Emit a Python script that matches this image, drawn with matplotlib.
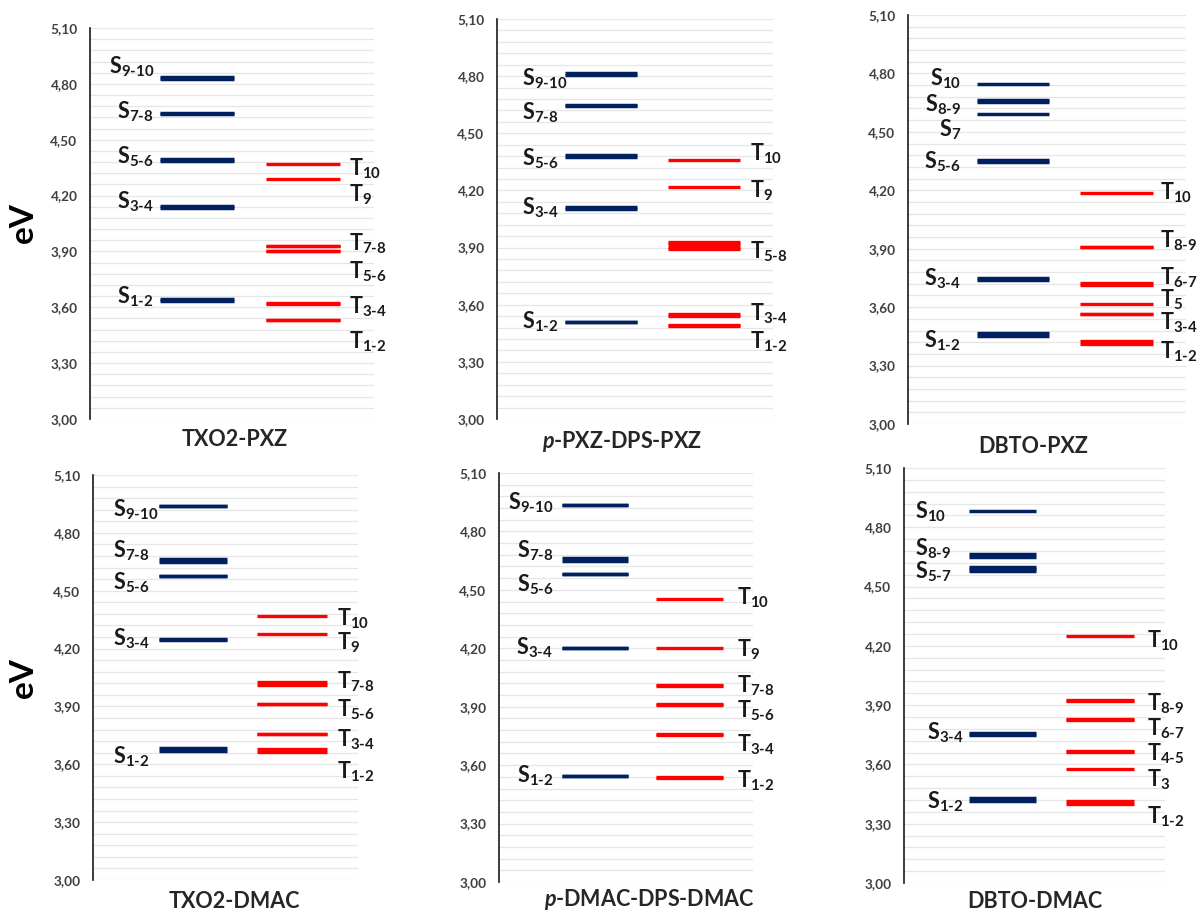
import matplotlib
matplotlib.use('Agg')
import matplotlib.pyplot as plt
import numpy as np
from matplotlib.ticker import FuncFormatter

plt.rcParams['font.family'] = ['Lato', 'DejaVu Sans']
plt.rcParams['font.weight'] = 'bold'
plt.rcParams['mathtext.fontset'] = 'custom'
plt.rcParams['mathtext.rm'] = 'Lato:bold'
plt.rcParams['mathtext.it'] = 'Lato:italic:bold'
plt.rcParams['mathtext.bf'] = 'Lato:bold'

# ---------------- DATA ----------------
molecules = [r'TXO2-PXZ', r'$\mathit{p}$-PXZ-DPS-PXZ', r'DBTO-PXZ',
             r'TXO2-DMAC', r'$\mathit{p}$-DMAC-DPS-DMAC', r'DBTO-DMAC']

# singlet state energies (eV), one entry per state
singlets = [
    [3.636, 3.644, 4.135, 4.144, 4.385, 4.394, 4.640, 4.641, 4.826, 4.835],
    [3.510, 3.511, 4.105, 4.113, 4.376, 4.385, 4.643, 4.651, 4.808, 4.816],
    [3.450, 3.465, 3.737, 3.749, 4.345, 4.353, 4.590, 4.651, 4.663, 4.744],
    [3.670, 3.685, 4.243, 4.251, 4.574, 4.577, 4.651, 4.666, 4.941, 4.941],
    [3.542, 3.546, 4.203, 4.203, 4.579, 4.583, 4.650, 4.665, 4.937, 4.937],
    [3.413, 3.428, 3.749, 3.757, 4.581, 4.590, 4.600, 4.649, 4.663, 4.884],
]
# triplet state energies (eV)
triplets = [
    [3.530, 3.531, 3.620, 3.621, 3.900, 3.901, 3.930, 3.931, 4.290, 4.370],
    [3.490, 3.491, 3.543, 3.551, 3.893, 3.905, 3.918, 3.930, 4.220, 4.360],
    [3.413, 3.428, 3.563, 3.567, 3.618, 3.715, 3.723, 3.910, 3.911, 4.186],
    [3.663, 3.678, 3.755, 3.758, 3.911, 3.914, 4.013, 4.025, 4.278, 4.369],
    [3.535, 3.539, 3.755, 3.759, 3.909, 3.913, 4.006, 4.010, 4.200, 4.455],
    [3.398, 3.413, 3.579, 3.662, 3.670, 3.824, 3.828, 3.920, 3.924, 4.249],
]

singlet_labels = [
    ['9-10', '7-8', '5-6', '3-4', '1-2'],
    ['9-10', '7-8', '5-6', '3-4', '1-2'],
    ['10', '8-9', '7', '5-6', '3-4', '1-2'],
    ['9-10', '7-8', '5-6', '3-4', '1-2'],
    ['9-10', '7-8', '5-6', '3-4', '1-2'],
    ['10', '8-9', '5-7', '3-4', '1-2'],
]
triplet_labels = [
    ['10', '9', '7-8', '5-6', '3-4', '1-2'],
    ['10', '9', '5-8', '3-4', '1-2'],
    ['10', '8-9', '6-7', '5', '3-4', '1-2'],
    ['10', '9', '7-8', '5-6', '3-4', '1-2'],
    ['10', '9', '7-8', '5-6', '3-4', '1-2'],
    ['10', '8-9', '6-7', '4-5', '3', '1-2'],
]

y_ticks = [3.00, 3.30, 3.60, 3.90, 4.20, 4.50, 4.80, 5.10]

# ---------------- LAYOUT ----------------
# label anchor heights (eV) for each label
singlet_label_y = [
    [4.894, 4.651, 4.409, 4.167, 3.659],
    [4.785, 4.610, 4.366, 4.107, 3.509],
    [4.775, 4.638, 4.510, 4.347, 3.748, 3.428],
    [4.919, 4.708, 4.544, 4.250, 3.637],
    [4.948, 4.700, 4.528, 4.203, 3.544],
    [4.877, 4.691, 4.573, 3.762, 3.410],
]
triplet_label_y = [
    [4.343, 4.205, 3.942, 3.793, 3.605, 3.415],
    [4.392, 4.200, 3.880, 3.553, 3.404],
    [4.188, 3.941, 3.753, 3.637, 3.520, 3.371],
    [4.354, 4.233, 4.026, 3.882, 3.727, 3.563],
    [4.460, 4.195, 4.006, 3.881, 3.707, 3.519],
    [4.227, 3.906, 3.782, 3.655, 3.525, 3.334],
]
# singlet label x (axes fraction) and alignment
singlet_label_x = [[0.225] * 5, [0.09] * 5, [0.19] * 6, [0.077] * 5, [0.213] * 5,
                   [0.042, 0.042, 0.042, 0.09, 0.09]]
singlet_label_ha = ['right', 'left', 'right', 'left', 'right', 'left']
triplet_label_x = [0.912, 0.917, 0.906, 0.92, 0.937, 0.931]

W, H = 1199, 915
axes_px = [(90, 28, 374, 419), (497, 19, 773, 419), (908, 15, 1186, 424),
           (93, 475, 358, 880), (499, 473, 753, 882), (904, 468, 1165, 883)]
title_px = [(235, 440), (622, 442), (1033, 447), (234, 901), (649, 900), (1035, 901)]

NAVY = '#002060'
RED = '#ff0000'


def lab(letter, sub):
    inner = r'\text{-}'.join(sub.split('-'))
    return f'{letter}$_{{{inner}}}$'


fig = plt.figure(figsize=(W / 100, H / 100), dpi=100)

for i, (x0, y0, x1, y1) in enumerate(axes_px):
    ax = fig.add_axes([x0 / W, 1 - y1 / H, (x1 - x0) / W, (y1 - y0) / H])
    ax.set_xlim(0, 1)
    ax.set_ylim(3.0, 5.1)
    ax.set_yticks(y_ticks)
    ax.set_yticks(np.linspace(3.0, 5.1, 36), minor=True)
    ax.yaxis.set_major_formatter(FuncFormatter(lambda v, p: f'{v:.2f}'.replace('.', ',')))
    ax.grid(axis='y', which='both', color='#e6e6e6', lw=0.9)
    ax.set_axisbelow(True)
    for s in ['top', 'right', 'bottom']:
        ax.spines[s].set_visible(False)
    ax.spines['left'].set_color('#1a1a1a')
    ax.spines['left'].set_linewidth(1.2)
    ax.set_xticks([])
    ax.tick_params(axis='y', which='both', length=0, pad=9, labelsize=9.8,
                   labelcolor='#404040')
    for t in ax.get_yticklabels():
        t.set_fontweight('bold')

    ax.hlines(singlets[i], 0.248, 0.507, color=NAVY, lw=2.5)
    ax.hlines(triplets[i], 0.620, 0.882, color=RED, lw=2.4)

    for j, (sub, y) in enumerate(zip(singlet_labels[i], singlet_label_y[i])):
        ax.text(singlet_label_x[i][j], y, lab('S', sub), ha=singlet_label_ha[i],
                va='center', fontsize=15.5, color='#1a1a1a', clip_on=False)
    for sub, y in zip(triplet_labels[i], triplet_label_y[i]):
        ax.text(triplet_label_x[i], y, lab('T', sub), ha='left', va='center',
                fontsize=15.5, color='#1a1a1a', clip_on=False)

    tx, ty = title_px[i]
    fig.text(tx / W, 1 - ty / H, molecules[i], ha='center', va='center',
             fontsize=15.5, color='#262626', fontweight='bold')

for ey in [223, 678]:
    fig.text(23 / W, 1 - ey / H, 'eV', rotation=90, ha='center', va='center',
             fontsize=24, fontweight='bold', color='#000000')

fig.savefig('out.png', dpi=100)
